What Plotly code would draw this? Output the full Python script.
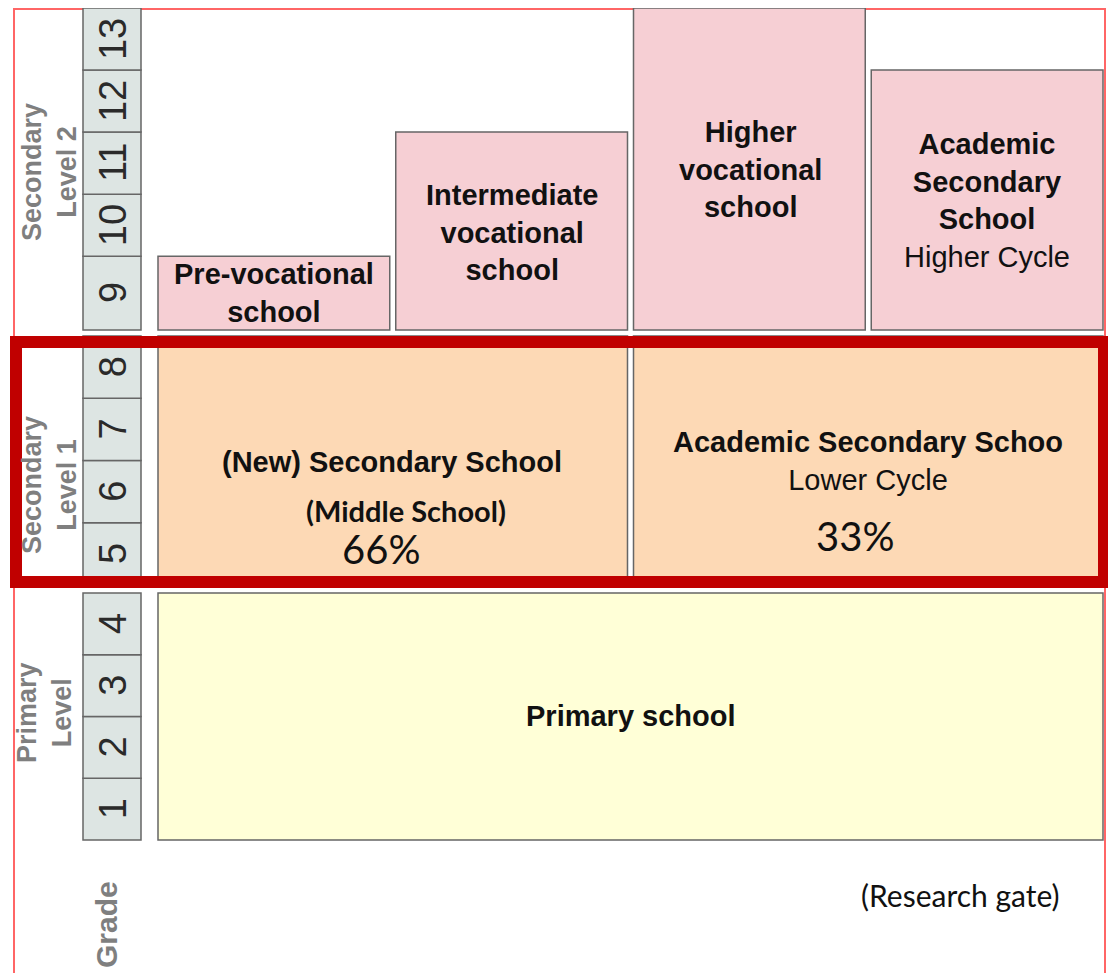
import plotly.graph_objects as go

# ---------------- data ----------------
grades = [1, 2, 3, 4, 5, 6, 7, 8, 9, 10, 11, 12, 13]
level_names = ["Primary<br>Level", "Secondary<br>Level 1", "Secondary<br>Level 2"]
level_grades = [[1, 2, 3, 4], [5, 6, 7, 8], [9, 10, 11, 12, 13]]

school_names = [
    "<b>Primary school</b>",
    "<b>(New) Secondary School</b>",
    "<b>Academic Secondary Schoo</b><br>Lower Cycle",
    "<b>Pre-vocational<br>school</b>",
    "<b>Intermediate<br>vocational<br>school</b>",
    "<b>Higher<br>vocational<br>school</b>",
    "<b>Academic<br>Secondary<br>School</b><br>Higher Cycle",
]
school_level = [0, 1, 1, 2, 2, 2, 2]
school_first_grade = [1, 5, 5, 9, 9, 9, 9]
school_last_grade = [4, 8, 8, 9, 11, 13, 12]
school_column = [0, 0, 1, 0, 1, 2, 3]
level_columns = [1, 2, 4]

share_labels = ["66%", "33%"]
sub_label = "(Middle School)"
source_label = "(Research gate)"
grade_axis_label = "Grade"

# ---------------- layout / style ----------------
W, H = 1116, 973
PAGE_OFFSET = 8            # default page margin around the plot div
LEVEL_Y = {0: (593, 840), 1: (336, 585), 2: (8, 330)}   # pixel span of each level
GRADE_WEIGHT = {9: 1.19}                                 # grade 9 row is taller
GRADE_X = (83, 141)
SCHOOL_X = (158, 1103)
COL_GAP = 6
LEVEL_FILL = {0: "#ffffd7", 1: "#fdd9b5", 2: "#f6cfd4"}
GRADE_FILL = "#dde5e3"
EDGE = "#666666"
MAIN_FONT = "Liberation Sans"
ALT_FONT = "Lato"
GRAY = "#7f7f7f"

# school-label text anchors (pixels)
SCHOOL_TEXT_POS = [(631, 716), (392, 462), (868, 461), (274, 293), (512, 232), (750, 169), (987, 200)]
LEVEL_LABEL_POS = [(44, 713), (49, 485), (49, 172)]


def grade_edges(level):
    """Return {grade: (top, bottom)} pixel edges for the level."""
    top, bottom = LEVEL_Y[level]
    gs = level_grades[level]
    weights = [GRADE_WEIGHT.get(g, 1.0) for g in gs]
    unit = (bottom - top) / sum(weights)
    edges = {}
    y = bottom
    for g, w in zip(gs, weights):
        edges[g] = (y - w * unit, y)
        y -= w * unit
    return edges


fig = go.Figure()
shapes = []
annotations = []

# outer thin border
shapes.append(dict(type="rect", xref="x", yref="y", x0=14, x1=1105, y0=9, y1=1100,
                   line=dict(color="#ff6666", width=2), fillcolor="rgba(0,0,0,0)"))

# grade cells
for lvl in range(3):
    e = grade_edges(lvl)
    for g in level_grades[lvl]:
        t, b = e[g]
        shapes.append(dict(type="rect", xref="x", yref="y", x0=GRADE_X[0], x1=GRADE_X[1],
                           y0=t, y1=b, fillcolor=GRADE_FILL, line=dict(color=EDGE, width=1.5)))
        annotations.append(dict(x=(GRADE_X[0] + GRADE_X[1]) / 2 + 1, y=(t + b) / 2, xref="x", yref="y",
                                text=str(g), showarrow=False, textangle=-90,
                                font=dict(family=MAIN_FONT, size=38, color="#2a2a2a")))

# level labels
for lvl in range(3):
    x, y = LEVEL_LABEL_POS[lvl]
    annotations.append(dict(x=x, y=y, xref="x", yref="y", text="<b>" + level_names[lvl] + "</b>",
                            showarrow=False, textangle=-90,
                            font=dict(family=MAIN_FONT, size=27, color=GRAY)))

annotations.append(dict(x=106, y=925, xref="x", yref="y", text="<b>" + grade_axis_label + "</b>",
                        showarrow=False, textangle=-90,
                        font=dict(family=MAIN_FONT, size=30, color=GRAY)))

# school boxes
for i, name in enumerate(school_names):
    lvl = school_level[i]
    e = grade_edges(lvl)
    top = e[school_last_grade[i]][0]
    bottom = e[school_first_grade[i]][1]
    ncol = level_columns[lvl]
    colw = (SCHOOL_X[1] - SCHOOL_X[0] + COL_GAP) / ncol
    x0 = SCHOOL_X[0] + school_column[i] * colw
    x1 = x0 + colw - COL_GAP
    shapes.append(dict(type="rect", xref="x", yref="y", x0=x0, x1=x1, y0=top, y1=bottom,
                       fillcolor=LEVEL_FILL[lvl], line=dict(color=EDGE, width=1.5)))
    tx, ty = SCHOOL_TEXT_POS[i]
    annotations.append(dict(x=tx, y=ty, xref="x", yref="y", text=name, showarrow=False,
                            align="center",
                            font=dict(family=MAIN_FONT, size=29, color="#111111")))

# extra labels in secondary level 1
annotations.append(dict(x=406, y=510, xref="x", yref="y", text="<b>" + sub_label + "</b>",
                        showarrow=False, font=dict(family=ALT_FONT, size=29, color="#111111")))
annotations.append(dict(x=381, y=549, xref="x", yref="y", text=share_labels[0],
                        showarrow=False, font=dict(family=ALT_FONT, size=40, color="#111111")))
annotations.append(dict(x=855, y=536, xref="x", yref="y", text=share_labels[1],
                        showarrow=False, font=dict(family=ALT_FONT, size=40, color="#111111")))

# source
annotations.append(dict(x=960, y=895, xref="x", yref="y", text=source_label,
                        showarrow=False, font=dict(family=ALT_FONT, size=30, color="#111111")))

# highlight box around secondary level 1
shapes.append(dict(type="rect", xref="x", yref="y", x0=16, x1=1104, y0=342, y1=582,
                   line=dict(color="#c00000", width=12), fillcolor="rgba(0,0,0,0)"))

fig.update_layout(
    width=W, height=H,
    margin=dict(l=0, r=0, t=0, b=0),
    paper_bgcolor="white", plot_bgcolor="white",
    xaxis=dict(range=[PAGE_OFFSET, W + PAGE_OFFSET], visible=False, fixedrange=True),
    yaxis=dict(range=[H + PAGE_OFFSET, PAGE_OFFSET], visible=False, fixedrange=True),
    shapes=shapes, annotations=annotations, showlegend=False,
)

fig.write_html("out.html")
